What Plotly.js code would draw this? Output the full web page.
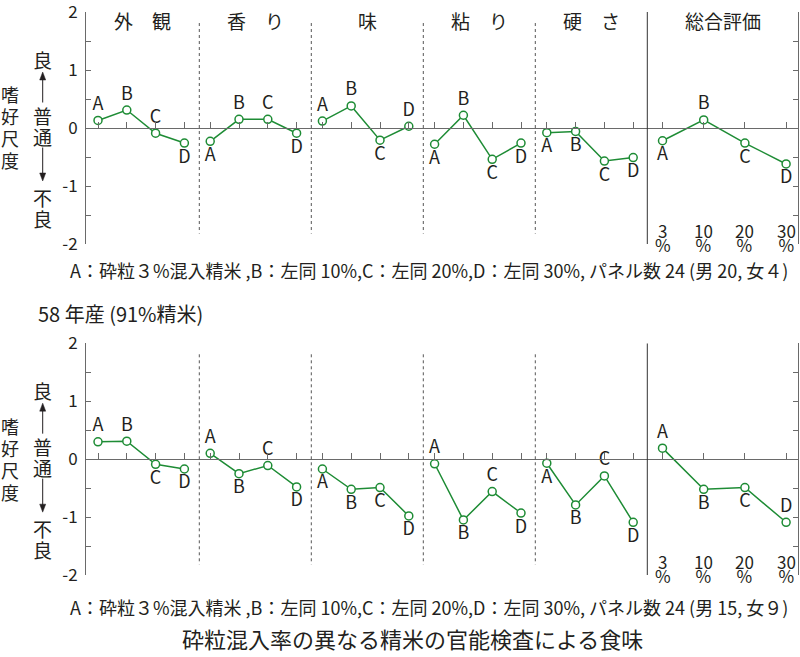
<!DOCTYPE html>
<html><head><meta charset="utf-8">
<script src="https://cdn.plot.ly/plotly-3.0.1.min.js"></script>
<style>html,body{margin:0;padding:0;background:#fff}#chart{width:800px;height:657px}</style>
</head><body><div id="chart"></div>
<script>
// ---- data ----
const groups = ['外　観','香　り','味','粘　り','硬　さ','総合評価'];
const samples = ['A','B','C','D'];
const pctLabels = ['3','10','20','30'];
// panel 1 (upper)
const upperGaikan = [0.13, 0.31, -0.09, -0.26];
const upperKaori  = [-0.23, 0.15, 0.15, -0.09];
const upperAji    = [0.12, 0.38, -0.21, 0.03];
const upperNebari = [-0.28, 0.22, -0.54, -0.26];
const upperKatasa = [-0.08, -0.06, -0.57, -0.51];
const upperSougou = [-0.22, 0.14, -0.26, -0.62];
// panel 2 (58年産)
const lowerGaikan = [0.30, 0.31, -0.09, -0.17];
const lowerKaori  = [0.10, -0.25, -0.11, -0.48];
const lowerAji    = [-0.17, -0.52, -0.49, -0.98];
const lowerNebari = [-0.08, -1.05, -0.56, -0.93];
const lowerKatasa = [-0.07, -0.79, -0.29, -1.09];
const lowerSougou = [0.19, -0.52, -0.49, -1.09];
const yTickVals = [-2,-1.5,-1,-0.5,0,0.5,1,1.5,2];
const yTickText = ['-2','','-1','','0','','1','','2'];
const note1 = 'A：砕粒３%混入精米 ,B：左同 10%,C：左同 20%,D：左同 30%, パネル数 24 (男 20, 女４)';
const note2 = 'A：砕粒３%混入精米 ,B：左同 10%,C：左同 20%,D：左同 30%, パネル数 24 (男 15, 女９)';
const subTitle2 = '58 年産 (91%精米)';
const mainTitle = '砕粒混入率の異なる精米の官能検査による食味';

// label side (U above / D below) — styling
const upperSide = ['UUUD','DUUD','UUDU','DUDD','DDDD','DUDD'];
const lowerSide = ['UUDD','UDUD','DDDD','UDUD','DDUD','UDDU'];

// ---- layout geometry ----
const W=800,H=657,L=86,R=2,T=12,B=82;
const PW=W-L-R, PH=H-T-B;
const panels=[{top:12,bot:244},{top:343.3,bot:575}];
const px=x=>(x-L)/PW, py=y=>(H-B-y)/PH;
const green='#1e8c35', ink='#231f20', axc='#6a6a6a';
const FONT='"Noto Sans CJK JP", "Noto Sans", sans-serif';

function xPos(g,i){ return g<5 ? 12 + g*112.2 + i*28.8 : 576.5 + i*41.2; }
const sepX=[0,1,2,3,4].map(k=>113.3+k*112);

const panelData=[
 [upperGaikan,upperKaori,upperAji,upperNebari,upperKatasa,upperSougou],
 [lowerGaikan,lowerKaori,lowerAji,lowerNebari,lowerKatasa,lowerSougou]];
const panelSide=[upperSide,lowerSide];

const traces=[];
panelData.forEach((pd,p)=>{
  pd.forEach((vals,g)=>{
    traces.push({
      type:'scatter', mode:'lines+markers+text',
      x: samples.map((s,i)=>xPos(g,i)), y: vals, text: samples,
      textposition: samples.map((s,i)=>panelSide[p][g][i]==='U'?'top center':'bottom center'),
      textfont:{family:FONT,size:18,color:ink},
      line:{color:green,width:1.5},
      marker:{symbol:'circle',size:8,color:'#fff',line:{color:green,width:1.5}},
      xaxis: p?'x2':'x', yaxis: p?'y2':'y', cliponaxis:false, hoverinfo:'skip'
    });
  });
});

const allTicks=[];
for(let g=0;g<6;g++) for(let i=0;i<4;i++) allTicks.push(xPos(g,i));

function xax(pos){ return {range:[0,PW], domain:[0,1], anchor:'free', position:pos,
  showline:true, linecolor:axc, linewidth:1, ticks:'inside', ticklen:6, tickcolor:axc,
  tickvals:allTicks, showticklabels:false, showgrid:false, zeroline:false, fixedrange:true}; }
function yax(dom,anc){ return {range:[-2,2], domain:dom, anchor:anc, showline:true, linecolor:axc,
  linewidth:1, mirror:'ticks', ticks:'inside', ticklen:5, tickcolor:axc, tickvals:yTickVals,
  ticktext:yTickText, tickfont:{family:FONT,size:17,color:ink}, ticklabelstandoff:4,
  ticklabeloverflow:'allow', showgrid:false, zeroline:false}; }

function note(x,y,text,size,xa){
  return {xref:'paper',yref:'paper',x:px(x),y:py(y),text:text,showarrow:false,
    xanchor:xa||'center',yanchor:'middle',font:{family:FONT,size:size,color:ink}};
}

const dom=panels.map(pn=>[py(pn.bot),py(pn.top)]);
const shapes=[], annotations=[];
panels.forEach((pn,p)=>{
  const xr=p?'x2':'x', yr=p?'y2':'y';
  sepX.forEach((sx,k)=>{
    if(k<4) shapes.push({type:'line',xref:xr,yref:yr,x0:sx,x1:sx,y0:1.81,y1:-1.82,line:{color:'#555',width:1,dash:'dot'}});
    else shapes.push({type:'line',xref:xr,yref:yr,x0:sx,x1:sx,y0:2,y1:-2,line:{color:'#333',width:1}});
  });
  const z=(pn.top+pn.bot)/2;
  // percent labels (tight two-line stack)
  pctLabels.forEach((t,i)=>{
    const s='<span style="font-size:17px">';
    annotations.push(note(L+xPos(5,i),z+109,s+t+'</span><br>'+s+'%</span>',11));
  });
  // y title
  ['嗜','好','尺','度'].forEach((c,i)=>{
    annotations.push(note(10,z-33.5+i*22,c,18));
  });
  [['良',-68.5],['普',-12.5],['通',8],['不',69],['良',90]].forEach(([c,o])=>{
    annotations.push(note(42.7,z+o,c,19));
  });
  // arrows
  const ax=42.7;
  shapes.push({type:'line',xref:'paper',yref:'paper',x0:px(ax),x1:px(ax),y0:py(z-25.5),y1:py(z-50),line:{color:ink,width:1}});
  shapes.push({type:'path',xref:'paper',yref:'paper',path:`M ${px(ax)},${py(z-56)} L ${px(ax-3)},${py(z-48)} L ${px(ax+3)},${py(z-48)} Z`,fillcolor:ink,line:{color:ink,width:0.5}});
  shapes.push({type:'line',xref:'paper',yref:'paper',x0:px(ax),x1:px(ax),y0:py(z+19.5),y1:py(z+47),line:{color:ink,width:1}});
  shapes.push({type:'path',xref:'paper',yref:'paper',path:`M ${px(ax)},${py(z+53)} L ${px(ax-3)},${py(z+45)} L ${px(ax+3)},${py(z+45)} Z`,fillcolor:ink,line:{color:ink,width:0.5}});
});
// group headers
groups.forEach((gname,g)=>{
  const left = g===0?0:sepX[g-1], right = g<5?sepX[g]:PW;
  annotations.push(note(L+(left+right)/2,20,gname,19));
});
annotations.push(note(68,270,note1,18,'left'));
annotations.push(note(36,314,subTitle2,20,'left'));
annotations.push(note(68,607,note2,18,'left'));
annotations.push(note(412,638,mainTitle,22));

const layout={width:W,height:H,margin:{l:L,r:R,t:T,b:B},paper_bgcolor:'#fff',plot_bgcolor:'#fff',
  showlegend:false,hovermode:false,font:{family:FONT,color:ink},
  xaxis:xax((dom[0][0]+dom[0][1])/2), yaxis:yax(dom[0],'x'),
  xaxis2:xax((dom[1][0]+dom[1][1])/2), yaxis2:yax(dom[1],'x2'),
  shapes:shapes, annotations:annotations};
Plotly.newPlot('chart',traces,layout,{staticPlot:true,displayModeBar:false});
</script></body></html>
